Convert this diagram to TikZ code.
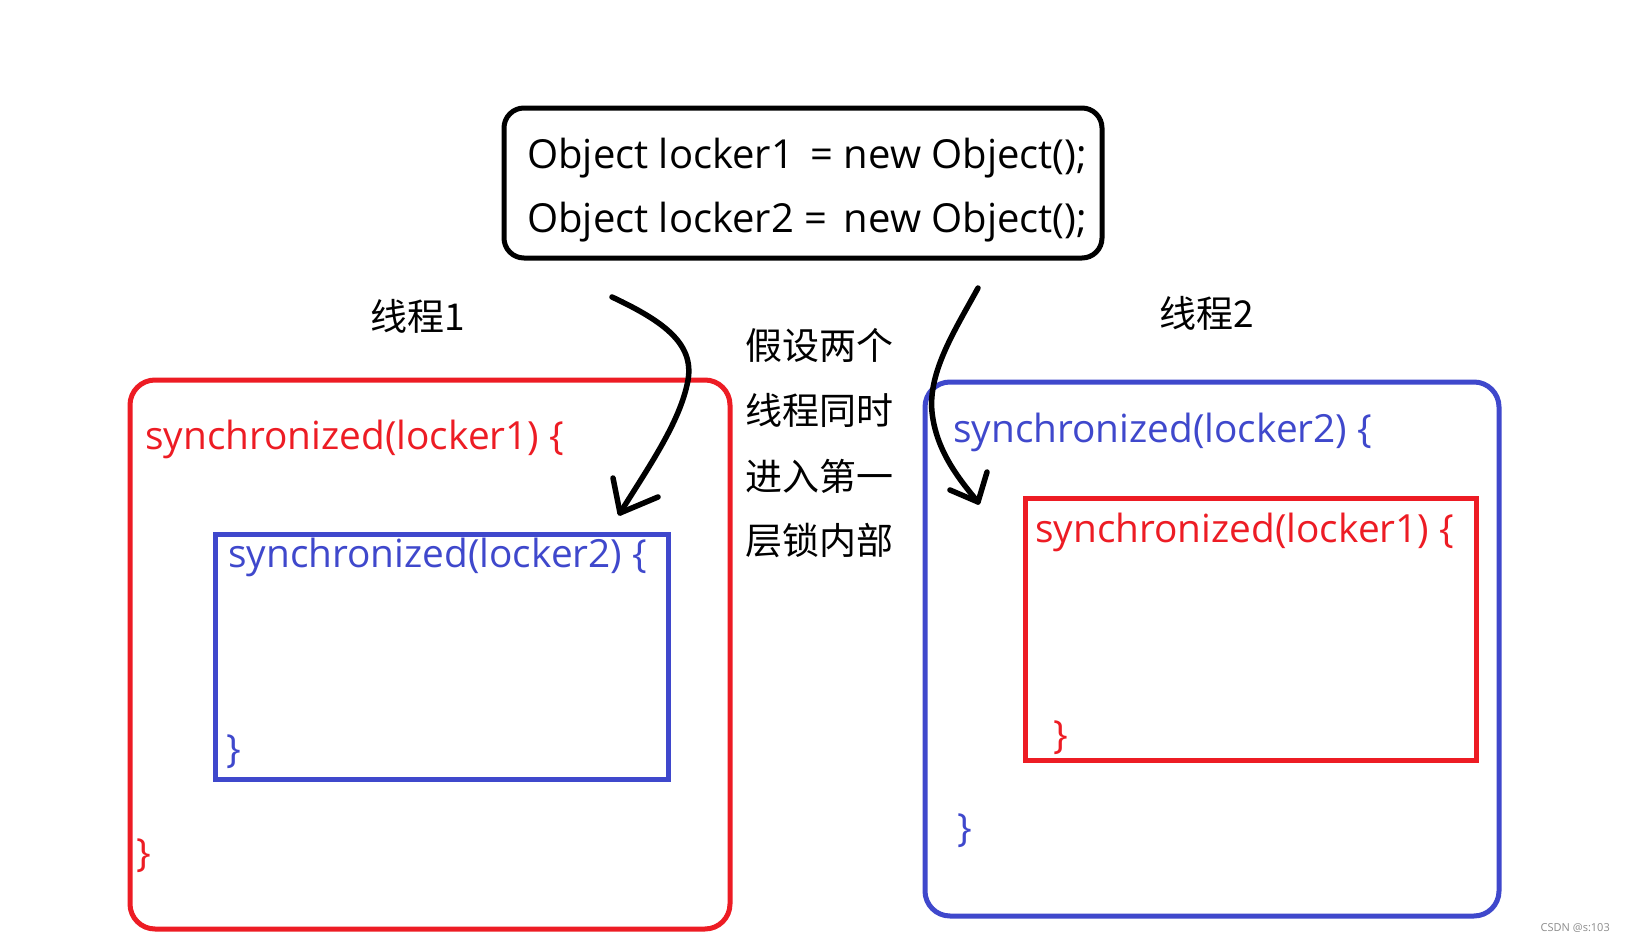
\documentclass[tikz,border=0pt]{standalone}
\usepackage{fontspec}
\setmainfont{Open Sans}
\newfontfamily\cjk{Noto Sans CJK SC}
\definecolor{pred}{HTML}{ED1C24}
\definecolor{pblue}{HTML}{3F48CC}
\begin{document}
\begin{tikzpicture}[x=1pt,y=-1pt,
  code/.style={anchor=base west, inner sep=0pt, font=\fontsize{38.8}{39}\selectfont},
  topcode/.style={anchor=base west, inner sep=0pt, font=\fontsize{40}{40}\selectfont},
  zh/.style={inner sep=0pt, font=\cjk\fontsize{37}{37}\selectfont},
  rbox/.style={draw=pred, line width=5pt, inner sep=0pt},
  bbox/.style={draw=pblue, line width=5pt, inner sep=0pt},
  hand/.style={line width=5.5pt, line cap=round, line join=round}]
\useasboundingbox (0,0) rectangle (1625,942);
\fill[white] (0,0) rectangle (1625,942);
% top box
\node[draw, line width=5pt, rounded corners=20pt, minimum width=598pt, minimum height=150pt, inner sep=0pt] (top) at (803,183) {};
\node[topcode] (l1) at (527,168) {Object locker1\hspace{6pt} = new Object();};
\node[topcode] (l2) at (527,232) {Object locker2 =\hspace{6pt} new Object();};
% thread labels
\node[zh] (t1) at (418,316) {线程1};
\node[zh] (t2) at (1207,313) {线程2};
% middle text
\node[zh] (m1) at (819,345) {假设两个};
\node[zh] (m2) at (819,410) {线程同时};
\node[zh] (m3) at (819,476) {进入第一};
\node[zh] (m4) at (819,540) {层锁内部};
% left thread
\node[rbox, rounded corners=25pt, minimum width=600pt, minimum height=549pt] (L) at (430,654.5) {};
\node[code, text=pred] (Ls) at (145,449) {synchronized(locker1) \{};
\node[bbox, minimum width=453pt, minimum height=245pt] (Li) at (441.5,656.5) {};
\node[code, text=pblue] (Lis) at (228,567) {synchronized(locker2) \{};
\node[code, text=pblue] (Lie) at (226,762) {\}};
\node[code, text=pred] (Le) at (136,866) {\}};
% right thread
\node[bbox, rounded corners=25pt, minimum width=574pt, minimum height=534pt] (R) at (1212,649) {};
\node[code, text=pblue] (Rs) at (953,442) {synchronized(locker2) \{};
\node[rbox, minimum width=451pt, minimum height=262pt] (Ri) at (1250.5,629) {};
\node[code, text=pred] (Ris) at (1035,542) {synchronized(locker1) \{};
\node[code, text=pred] (Rie) at (1053,748) {\}};
\node[code, text=pblue] (Re) at (957,841) {\}};
% arrows
\coordinate (a1s) at (612,297);
\coordinate (a1t) at (620,513);
\coordinate (a1l) at (613,478);
\coordinate (a1r) at (658,497);
\draw[hand] (a1s) .. controls (665,322) and (697,345) .. (687,385) .. controls (678,425) and (648,468) .. (a1t);
\draw[hand] (a1l) -- (a1t) -- (a1r);
\coordinate (a2s) at (978,288);
\coordinate (a2t) at (978,502);
\coordinate (a2l) at (950,490);
\coordinate (a2r) at (987,472);
\draw[hand] (a2s) .. controls (955,330) and (928,372) .. (932,412) .. controls (936,450) and (958,478) .. (a2t);
\draw[hand] (a2l) -- (a2t) -- (a2r);
% watermark
\node[anchor=east, inner sep=0pt, text=black!45, font=\fontsize{11}{11}\selectfont] (wm) at (1610,928) {CSDN @s:103};
\end{tikzpicture}
\end{document}
